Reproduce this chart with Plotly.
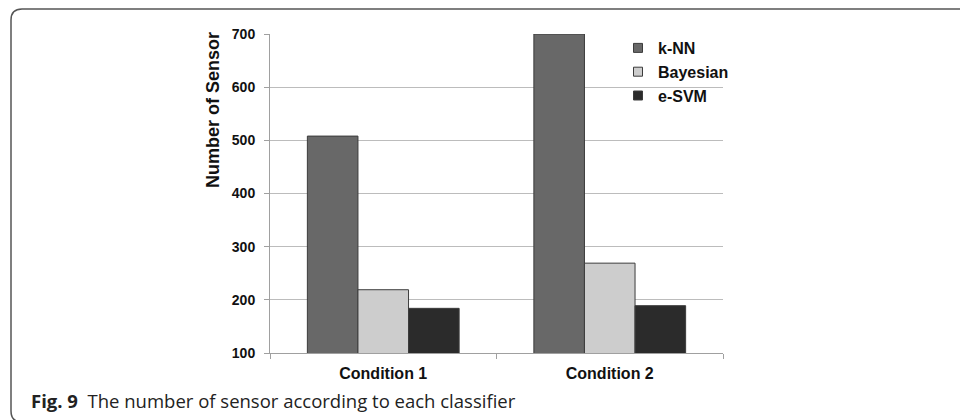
import plotly.graph_objects as go

categories = ["Condition 1", "Condition 2"]
series_names = ["k-NN", "Bayesian", "e-SVM"]
knn = [508, 700]
bayesian = [219, 269]
esvm = [184, 189]
y_ticks = [100, 200, 300, 400, 500, 600, 700]

colors = ["#686868", "#cdcdcd", "#2b2b2b"]

W, H = 960, 420
L, R, T, B = 270, 237, 34, 67
pw, ph = W - L - R, H - T - B

fig = go.Figure()
for name, vals, c in zip(series_names, [knn, bayesian, esvm], colors):
    fig.add_trace(go.Bar(
        x=categories, y=vals, name=name, showlegend=False,
        marker=dict(color=c, line=dict(color="#3c3c3c", width=1)),
    ))
# legend entries (small square swatches)
for name, c in zip(series_names, colors):
    fig.add_trace(go.Scatter(
        x=[None], y=[None], mode="markers", name=name, legendgroup=name,
        marker=dict(symbol="square", size=9, color=c, line=dict(color="#3c3c3c", width=1)),
    ))

def px2paper(x, y):
    return (x - L) / pw, (H - B - y) / ph

# rounded frame (open on the right and bottom, like the page crop)
x0, y0, rad = 11, 9, 11
x1, y1 = 960, 422
def P(x, y):
    a, b = px2paper(x, y)
    return f"{a:.5f},{b:.5f}"
path = (f"M {P(x1, y0)} L {P(x0 + rad, y0)} Q {P(x0, y0)} {P(x0, y0 + rad)} "
        f"L {P(x0, y1 - rad)} Q {P(x0, y1)} {P(x0 + rad, y1)} L {P(x1, y1)}")
fig.add_shape(type="path", path=path, xref="paper", yref="paper",
              line=dict(color="#555555", width=1.5), fillcolor="rgba(0,0,0,0)", layer="above")

cx, cy = px2paper(29, 401)
fig.add_annotation(x=cx, y=cy, xref="paper", yref="paper", xanchor="left", yanchor="middle",
                   showarrow=False,
                   text="<b>Fig. 9</b>  The number of sensor according to each classifier",
                   font=dict(family="Open Sans, Noto Sans, sans-serif", size=18.5, color="#222222"))

tx, ty = px2paper(213, 110)
fig.add_annotation(x=tx, y=ty, xref="paper", yref="paper", xanchor="center", yanchor="middle",
                   showarrow=False, textangle=-90, text="<b>Number of Sensor</b>",
                   font=dict(family="Liberation Sans, Arial, sans-serif", size=18, color="#111111"))

fig.update_layout(
    width=W, height=H,
    margin=dict(l=L, r=R, t=T, b=B),
    paper_bgcolor="white", plot_bgcolor="white",
    barmode="group", bargap=0.33, bargroupgap=0,
    font=dict(family="Liberation Sans, Arial, sans-serif", color="#111111"),
    legend=dict(x=px2paper(618, 0)[0], y=px2paper(0, 31)[1], xanchor="left", yanchor="top",
                font=dict(size=16, family="Liberation Sans, Arial, sans-serif", weight="bold"),
                bgcolor="rgba(0,0,0,0)", itemwidth=30, tracegroupgap=0),
    showlegend=True,
)
fig.update_xaxes(
    type="category", tickson="boundaries", ticks="outside", ticklen=5, tickcolor="#a0a0a0",
    showline=True, linecolor="#a0a0a0", linewidth=1, showgrid=False, ticklabelstandoff=6,
    tickfont=dict(size=16, weight="bold", color="#111111"),
)
fig.update_yaxes(
    range=[100, 700], tickvals=y_ticks, ticks="outside", ticklen=5, tickcolor="#a0a0a0",
    showline=True, linecolor="#a0a0a0", linewidth=1, ticklabelstandoff=6,
    showgrid=True, gridcolor="#bcbcbc", gridwidth=1, zeroline=False,
    tickfont=dict(size=14, weight="bold", color="#111111"),
)

fig.write_html("out.html", config={"displayModeBar": False},
               post_script="document.body.style.margin='0';document.body.style.overflow='hidden';")
